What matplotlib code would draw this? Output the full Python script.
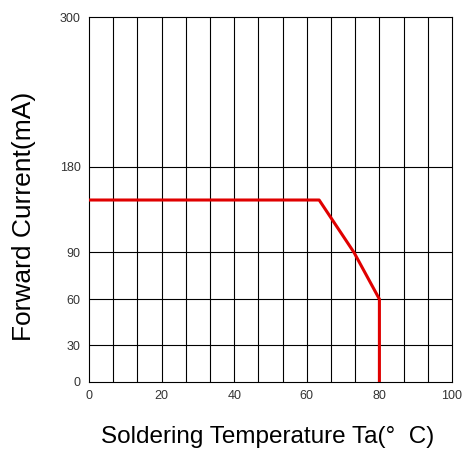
import matplotlib
matplotlib.use("Agg")
import matplotlib.pyplot as plt
import numpy as np

# derating curve
temp = [0, 63.4, 73, 80, 80]
current = [145, 145, 90, 60, 0]

x_ticks = [0, 20, 40, 60, 80, 100]
y_ticks = [0, 30, 60, 90, 180, 300]
# the y axis is not linear: where each tick sits, as a fraction of the height
y_tick_pos = [0, 0.101, 0.227, 0.355, 0.590, 1.0]


def fwd(v):
    return np.interp(v, y_ticks, y_tick_pos)


def inv(p):
    return np.interp(p, y_tick_pos, y_ticks)


plt.rcParams["font.family"] = ["Liberation Sans", "DejaVu Sans"]

fig = plt.figure(figsize=(4.66, 4.5), dpi=100)
ax = fig.add_axes([89 / 466, 1 - 382 / 450, 363 / 466, 365 / 450])
ax.set_yscale("function", functions=(fwd, inv))
ax.set_xlim(0, 100)
ax.set_ylim(0, 300)

# grid: 15 columns, horizontal lines at the y ticks
for gx in np.linspace(0, 100, 16)[1:-1]:
    ax.axvline(gx, color="black", lw=0.8, zorder=1)
for gy in y_ticks[1:-1]:
    ax.axhline(gy, color="black", lw=0.8, zorder=1)

ax.plot(temp, current, color="#e00000", lw=2.2, zorder=3)

ax.set_xticks(x_ticks)
ax.set_yticks(y_ticks)
ax.set_xticklabels([str(v) for v in x_ticks])
ax.set_yticklabels([str(v) for v in y_ticks])
ax.tick_params(length=0, labelsize=9, labelcolor="#333333")
ax.tick_params(axis="y", pad=6)
ax.tick_params(axis="x", pad=6)
for s in ax.spines.values():
    s.set_linewidth(0.8)

ax.set_xlabel("Soldering Temperature Ta(°  C)", fontsize=17.5, va="center")
ax.xaxis.set_label_coords(0.492, -0.151)
ax.set_ylabel("Forward Current(mA)", fontsize=19, va="center")
ax.yaxis.set_label_coords(-0.179, 0.455)

fig.savefig("out.png", dpi=100)
